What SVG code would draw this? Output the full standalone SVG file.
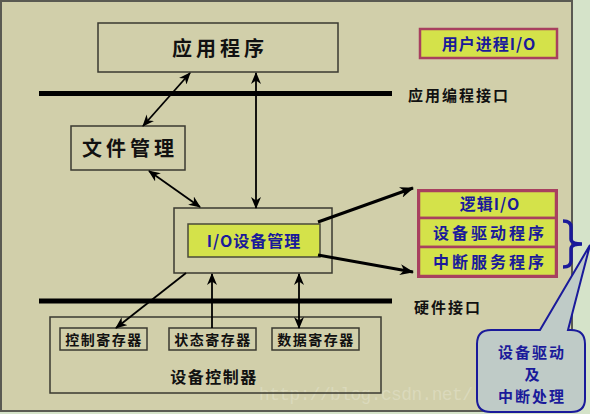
<svg xmlns="http://www.w3.org/2000/svg" width="590" height="414" viewBox="0 0 590 414">
<defs>
<marker id="ah" viewBox="0 0 12 10" refX="11" refY="5" markerWidth="12" markerHeight="10" markerUnits="userSpaceOnUse" orient="auto-start-reverse">
<path d="M0,0 L12,5 L0,10 L3.5,5 Z" fill="#000"/>
</marker>
<marker id="ahb" viewBox="0 0 14 11" refX="13" refY="5.5" markerWidth="14" markerHeight="11" markerUnits="userSpaceOnUse" orient="auto">
<path d="M0,0 L14,5.5 L0,11 L4,5.5 Z" fill="#000"/>
</marker>
</defs>
<style>
.box{fill:none;stroke:#3a3a30;stroke-width:1.5}
.yl{fill:#D4E24A;stroke:#A8405F;stroke-width:2.5}
.ylin{fill:#D4E24A;stroke:#4a4a3a;stroke-width:1.5}
.t{font-family:"Noto Sans CJK SC","Noto Sans",sans-serif;fill:#111;font-weight:700;text-anchor:middle}
.n{font-family:"Noto Sans CJK SC","Noto Sans",sans-serif;fill:#1a1a9a;font-weight:700;text-anchor:middle}
.bar{stroke:#000;stroke-width:5}
.c{stroke:#000;stroke-width:1.8;fill:none}
.cb{stroke:#000;stroke-width:3;fill:none}
</style>
<rect x="0" y="0" width="590" height="414" fill="#D5E3C9"/>
<rect x="1" y="1" width="571" height="410" fill="#D1CFAA" stroke="#5a5a52" stroke-width="2"/>

<text x="259" y="400" font-family="Liberation Mono, monospace" font-size="18" fill="#ffffff" fill-opacity="0.22" textLength="214">http://blog.csdn.net/</text>

<line class="bar" x1="39" y1="93.5" x2="392" y2="93.5"/>
<line class="bar" x1="39" y1="301" x2="392" y2="301"/>
<text class="t" x="459" y="101" font-size="15" font-weight="500" letter-spacing="2">应用编程接口</text>
<text class="t" x="448" y="313" font-size="15" font-weight="500" letter-spacing="2">硬件接口</text>

<g id="app">
<rect class="box" x="98" y="23" width="240" height="49"/>
<text class="t" x="220" y="56" font-size="20" letter-spacing="4">应用程序</text>
</g>
<g id="userio">
<rect class="yl" x="420" y="29" width="137" height="29" stroke-width="1.5"/>
<text class="n" x="489" y="50" font-size="16" letter-spacing="1">用户进程I/O</text>
</g>
<g id="file">
<rect class="box" x="71" y="126" width="114" height="44"/>
<text class="t" x="130" y="156" font-size="20" letter-spacing="4">文件管理</text>
</g>
<g id="iomgr">
<rect class="box" x="174" y="208" width="158" height="65"/>
<rect class="ylin" x="188" y="224" width="132" height="33"/>
<text class="n" x="254" y="247" font-size="16" letter-spacing="1">I/O设备管理</text>
</g>
<g id="stack">
<rect class="yl" x="419" y="191" width="137" height="27"/>
<rect class="yl" x="419" y="218" width="137" height="29"/>
<rect class="yl" x="419" y="247" width="137" height="29"/>
<rect x="418" y="190" width="139" height="87" fill="none" stroke="#A8405F" stroke-width="2"/>
<text class="n" x="490" y="210" font-size="16" letter-spacing="1">逻辑I/O</text>
<text class="n" x="490" y="239" font-size="16" letter-spacing="3">设备驱动程序</text>
<text class="n" x="490" y="268" font-size="16" letter-spacing="3">中断服务程序</text>
</g>
<g id="brace">
<path d="M563,221 Q571,221 571,227 L571,239 Q571,244 582,244 Q571,244 571,249 L571,261 Q571,267 563,267" fill="none" stroke="#1a1a9a" stroke-width="3.5"/>
</g>
<g id="controller">
<rect class="box" x="50" y="317" width="331" height="76"/>
<text class="t" x="214" y="383" font-size="16" letter-spacing="1.5">设备控制器</text>
</g>
<g id="reg1">
<rect class="box" x="60" y="328" width="87" height="22"/>
<text class="t" x="104" y="345" font-size="14" font-weight="500" letter-spacing="1.5">控制寄存器</text>
</g>
<g id="reg2">
<rect class="box" x="169" y="328" width="87" height="22"/>
<text class="t" x="213" y="345" font-size="14" font-weight="500" letter-spacing="1.5">状态寄存器</text>
</g>
<g id="reg3">
<rect class="box" x="272" y="328" width="87" height="22"/>
<text class="t" x="316" y="345" font-size="14" font-weight="500" letter-spacing="1.5">数据寄存器</text>
</g>

<g id="connectors">
<line class="c" x1="143" y1="126" x2="190" y2="73" marker-start="url(#ah)" marker-end="url(#ah)"/>
<line class="c" x1="256" y1="73" x2="256" y2="208" marker-start="url(#ah)" marker-end="url(#ah)"/>
<line class="c" x1="149" y1="171" x2="200" y2="207" marker-start="url(#ah)" marker-end="url(#ah)"/>
<line class="cb" x1="318" y1="222" x2="413" y2="188" marker-end="url(#ahb)"/>
<line class="cb" x1="318" y1="255" x2="413" y2="272" marker-end="url(#ahb)"/>
<line class="c" x1="186" y1="273" x2="116" y2="328" marker-end="url(#ah)"/>
<line class="c" x1="212" y1="328" x2="212" y2="274" marker-end="url(#ah)"/>
<line class="c" x1="299" y1="274" x2="299" y2="328" marker-start="url(#ah)" marker-end="url(#ah)"/>
</g>

<g id="callout">
<path d="M491,330 L540,330 L590,245 L568,330 L571,330 Q585,330 585,344 L585,399 Q585,412 571,412 L491,412 Q477,412 477,399 L477,344 Q477,330 491,330 Z" fill="#BFCBC7" stroke="#1a1a9a" stroke-width="2"/>
<text class="n" x="532" y="358" font-size="15" font-weight="500" letter-spacing="2">设备驱动</text>
<text class="n" x="532" y="380" font-size="15" font-weight="500">及</text>
<text class="n" x="532" y="402" font-size="15" font-weight="500" letter-spacing="2">中断处理</text>
</g>
</svg>
